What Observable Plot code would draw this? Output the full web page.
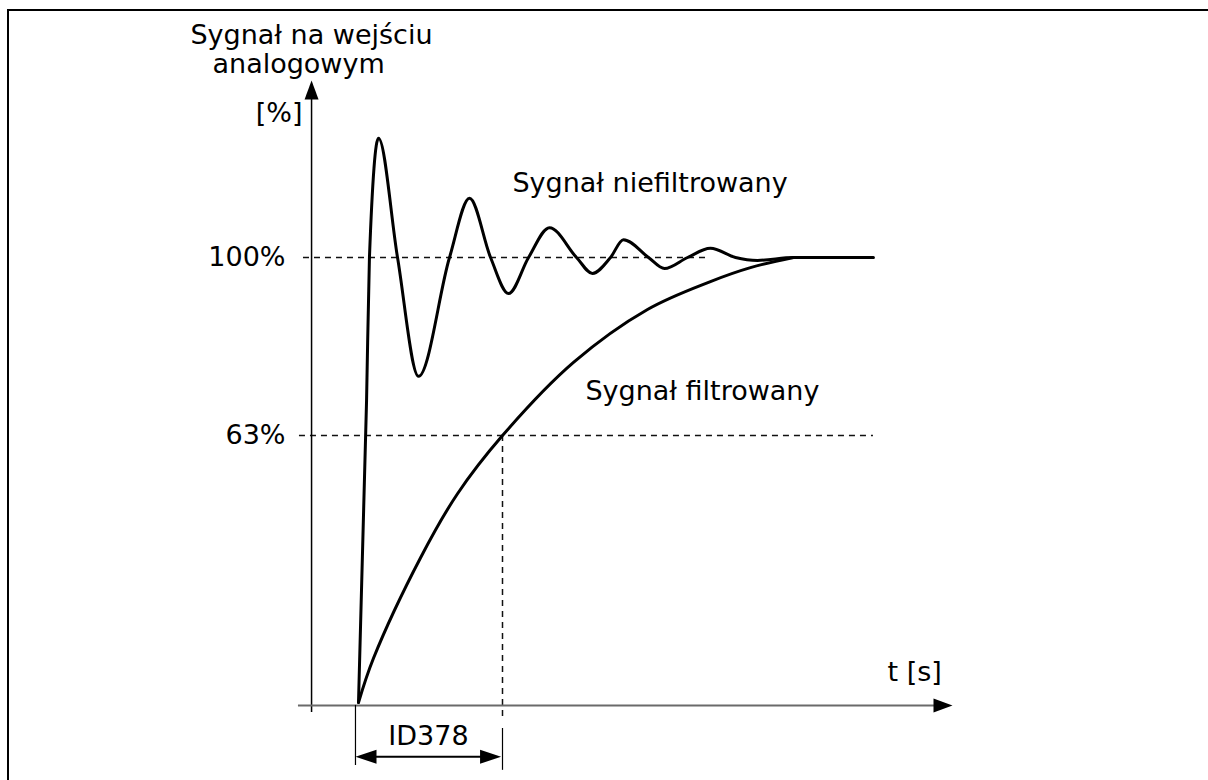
<!DOCTYPE html>
<html>
<head>
<meta charset="utf-8">
<script src="https://cdn.jsdelivr.net/npm/d3@7"></script>
<script src="https://cdn.jsdelivr.net/npm/@observablehq/plot@0.6"></script>
<style>
  html, body { margin: 0; padding: 0; background: #fff; overflow: hidden; }
  #wrap { position: relative; width: 1208px; height: 780px; overflow: hidden; }
  #frame { position: absolute; left: 7px; top: 9px; width: 1300px; height: 900px;
           border-top: 2px solid #000; border-left: 2px solid #000; }
  #chart { position: absolute; left: 0; top: 0; }
</style>
</head>
<body>
<div id="wrap"><div id="frame"></div><div id="chart"></div></div>
<script>
// ---- data (t in units of the time constant ID378, value in %) ----
const tickValues = [100, 63];
const tickLabels = ["100%", "63%"];

const unfilteredT = [0, 0.056, 0.076, 0.139, 0.271, 0.417, 0.632, 0.771, 0.917, 1.042, 1.181, 1.326, 1.514, 1.625, 1.75, 1.84, 2.014, 2.125, 2.285, 2.444, 2.618, 2.771, 3.021, 3.576];
const unfilteredV = [7.5, 70.3, 100, 124.8, 100, 75.3, 100, 112.3, 100, 92.5, 100, 106.2, 100, 96.7, 100, 103.7, 100, 97.7, 100, 101.9, 100, 99.4, 100, 100];

const filteredT = [0, 0.104, 0.431, 0.6875, 1, 1.493, 2.007, 2.444, 2.722, 3.021];
const filteredV = [7.5, 16.7, 37.6, 50.9, 63, 78.2, 89.2, 95.0, 97.9, 100];

const timeConstant = 1;          // ID378
const timeConstantLabel = "ID378";
const seriesLabels = ["Sygnał niefiltrowany", "Sygnał filtrowany"];
const yTitle = ["Sygnał na wejściu", "analogowym"];
const yUnit = "[%]";
const xTitle = "t [s]";

// ---- build tables ----
const unfiltered = unfilteredT.map((t, i) => ({t, v: unfilteredV[i]}));
const filtered = filteredT.map((t, i) => ({t, v: filteredV[i]}));

// axis geometry (data units)
const yAxisT = -0.326, xAxisV = 6.88;
const font = "DejaVu Sans";
const fs = 27;

const headSymbol = {
  draw(ctx) { ctx.moveTo(0, 0); ctx.lineTo(7, 19); ctx.lineTo(-7, 19); ctx.closePath(); }
};
const smallHead = {
  draw(ctx) { ctx.moveTo(0, 0); ctx.lineTo(7, 21); ctx.lineTo(-7, 21); ctx.closePath(); }
};
const dash = {stroke: "#111", strokeWidth: 1.5, strokeDasharray: "6,5"};
const txt = {fontSize: fs, fontFamily: font, fill: "#000"};

const chart = Plot.plot({
  width: 1208,
  height: 780,
  margin: 0,
  style: {background: "transparent", overflow: "visible"},
  x: {domain: [0, 1], range: [358, 502], axis: null},
  y: {domain: [63, 100], range: [435, 257], axis: null},
  marks: [
    // dashed reference lines
    Plot.ruleY([100], {x1: -0.382, x2: 2.424, ...dash}),
    Plot.ruleY([63], {x1: -0.41, x2: 3.576, ...dash}),
    Plot.ruleX([timeConstant], {y1: 63, y2: 4.4, ...dash}),
    // axes
    Plot.ruleX([yAxisT], {y1: 5.43, y2: 133, stroke: "#000", strokeWidth: 1.5}),
    Plot.dot([{t: yAxisT, v: 136.8}], {x: "t", y: "v", symbol: headSymbol, rotate: 0, fill: "#000", stroke: "none"}),
    Plot.ruleY([xAxisV], {x1: -0.417, x2: 4.0, stroke: "#6a6a6a", strokeWidth: 2}),
    Plot.dot([{t: 4.125, v: xAxisV}], {x: "t", y: "v", symbol: headSymbol, rotate: 90, fill: "#000", stroke: "none"}),
    // curves
    Plot.line(unfiltered, {x: "t", y: "v", curve: "monotone-x", stroke: "#000", strokeWidth: 3}),
    Plot.line(filtered, {x: "t", y: "v", curve: "catmull-rom", stroke: "#000", strokeWidth: 3}),
    // time-constant dimension
    Plot.ruleX([-0.021], {y1: 6.9, y2: -5.6, stroke: "#000", strokeWidth: 1.2}),
    Plot.ruleX([timeConstant], {y1: 2.1, y2: -6.6, stroke: "#000", strokeWidth: 1.2}),
    Plot.ruleY([-3.76], {x1: 0.1, x2: 0.88, stroke: "#000", strokeWidth: 2}),
    Plot.dot([{t: -0.021, v: -3.76, a: -90}, {t: timeConstant - 0.01, v: -3.76, a: 90}],
      {x: "t", y: "v", rotate: "a", symbol: smallHead, fill: "#000", stroke: "none"}),
    Plot.text([timeConstantLabel], {x: 0.486, y: 0.42, text: d => d, ...txt}),
    // tick labels
    Plot.text(tickValues, {x: -0.507, y: d => d, text: (d, i) => tickLabels[i], textAnchor: "end", ...txt}),
    // titles and series labels
    Plot.text([yTitle[0]], {x: -1.167, y: 146.1, text: d => d, textAnchor: "start", ...txt}),
    Plot.text([yTitle[1]], {x: -1.014, y: 140.2, text: d => d, textAnchor: "start", ...txt}),
    Plot.text([yUnit], {x: -0.389, y: 129.9, text: d => d, textAnchor: "end", ...txt}),
    Plot.text([seriesLabels[0]], {x: 1.069, y: 115.4, text: d => d, textAnchor: "start", ...txt}),
    Plot.text([seriesLabels[1]], {x: 1.576, y: 72.2, text: d => d, textAnchor: "start", ...txt}),
    Plot.text([xTitle], {x: 3.674, y: 13.7, text: d => d, textAnchor: "start", ...txt})
  ]
});
document.getElementById("chart").appendChild(chart);
</script>
</body>
</html>
